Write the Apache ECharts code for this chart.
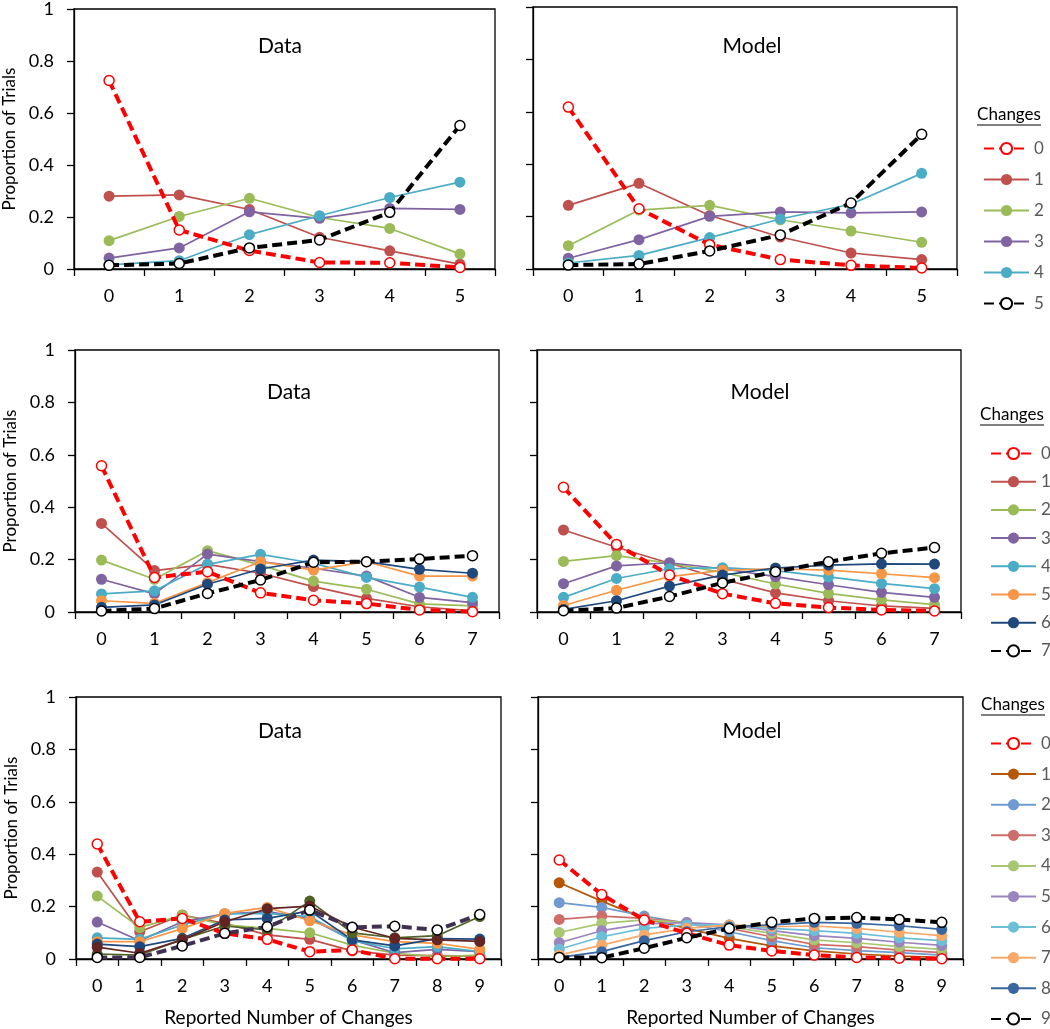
<!DOCTYPE html>
<html>
<head>
<meta charset="utf-8">
<title>Proportion of Trials</title>
<script src="https://cdn.jsdelivr.net/npm/echarts@6/dist/echarts.min.js"></script>
<style>
  html, body { margin: 0; padding: 0; background: #fff; }
  #chart { width: 1050px; height: 1029px; }
</style>
</head>
<body>
<div id="chart"></div>
<script>
// categories (reported number of changes)
const cats5 = ['0', '1', '2', '3', '4', '5']
const cats7 = ['0', '1', '2', '3', '4', '5', '6', '7']
const cats9 = ['0', '1', '2', '3', '4', '5', '6', '7', '8', '9']

// top row: 0..5 changes, one row per actual number of changes
const topData = [
  [0.725, 0.150, 0.071, 0.025, 0.024, 0.006],
  [0.280, 0.285, 0.229, 0.122, 0.070, 0.019],
  [0.109, 0.202, 0.272, 0.198, 0.156, 0.058],
  [0.042, 0.081, 0.220, 0.195, 0.233, 0.229],
  [0.016, 0.032, 0.132, 0.205, 0.275, 0.334],
  [0.014, 0.021, 0.081, 0.112, 0.218, 0.552]
]
const topModel = [
  [0.618, 0.230, 0.093, 0.036, 0.014, 0.004],
  [0.243, 0.327, 0.204, 0.122, 0.061, 0.036],
  [0.089, 0.225, 0.243, 0.188, 0.145, 0.102],
  [0.041, 0.112, 0.201, 0.218, 0.214, 0.218],
  [0.023, 0.052, 0.120, 0.191, 0.247, 0.365],
  [0.015, 0.019, 0.069, 0.130, 0.252, 0.514]
]

// middle row: 0..7 changes
const midData = [
  [0.558, 0.132, 0.154, 0.073, 0.045, 0.032, 0.008, 0.001],
  [0.338, 0.158, 0.182, 0.148, 0.097, 0.052, 0.020, 0.004],
  [0.198, 0.125, 0.234, 0.179, 0.118, 0.087, 0.031, 0.023],
  [0.125, 0.069, 0.221, 0.192, 0.167, 0.137, 0.056, 0.036],
  [0.069, 0.081, 0.182, 0.220, 0.186, 0.132, 0.095, 0.056],
  [0.043, 0.033, 0.112, 0.192, 0.160, 0.192, 0.137, 0.137],
  [0.018, 0.027, 0.106, 0.164, 0.198, 0.192, 0.163, 0.148],
  [0.004, 0.013, 0.071, 0.122, 0.190, 0.192, 0.202, 0.215]
]
const midModel = [
  [0.476, 0.258, 0.141, 0.070, 0.033, 0.017, 0.008, 0.004],
  [0.313, 0.247, 0.186, 0.125, 0.073, 0.043, 0.023, 0.014],
  [0.193, 0.215, 0.186, 0.151, 0.107, 0.071, 0.046, 0.028],
  [0.108, 0.176, 0.188, 0.165, 0.135, 0.104, 0.075, 0.056],
  [0.056, 0.128, 0.165, 0.169, 0.158, 0.134, 0.109, 0.089],
  [0.025, 0.083, 0.135, 0.159, 0.165, 0.160, 0.146, 0.131],
  [0.010, 0.043, 0.099, 0.141, 0.168, 0.179, 0.184, 0.183],
  [0.005, 0.015, 0.059, 0.111, 0.154, 0.192, 0.224, 0.246]
]

// bottom row: 0..9 changes
const botData = [
  [0.439, 0.142, 0.155, 0.098, 0.075, 0.028, 0.034, 0.001, 0.001, 0.001],
  [0.332, 0.104, 0.168, 0.136, 0.092, 0.075, 0.031, 0.015, 0.013, 0.011],
  [0.240, 0.120, 0.167, 0.130, 0.117, 0.100, 0.053, 0.022, 0.009, 0.015],
  [0.141, 0.070, 0.142, 0.172, 0.181, 0.155, 0.073, 0.024, 0.037, 0.028],
  [0.081, 0.075, 0.130, 0.172, 0.174, 0.162, 0.070, 0.039, 0.047, 0.028],
  [0.066, 0.066, 0.116, 0.174, 0.197, 0.146, 0.092, 0.066, 0.060, 0.037],
  [0.057, 0.047, 0.079, 0.149, 0.155, 0.184, 0.073, 0.050, 0.078, 0.076],
  [0.019, 0.015, 0.075, 0.126, 0.111, 0.221, 0.100, 0.081, 0.089, 0.162],
  [0.045, 0.022, 0.073, 0.142, 0.192, 0.202, 0.121, 0.079, 0.073, 0.067],
  [0.006, 0.006, 0.050, 0.098, 0.123, 0.187, 0.121, 0.125, 0.111, 0.170]
]
const botModel = [
  [0.378, 0.246, 0.149, 0.098, 0.053, 0.031, 0.015, 0.006, 0.003, 0.001],
  [0.291, 0.221, 0.155, 0.117, 0.079, 0.050, 0.031, 0.019, 0.011, 0.006],
  [0.215, 0.197, 0.164, 0.136, 0.104, 0.070, 0.043, 0.032, 0.024, 0.015],
  [0.151, 0.164, 0.155, 0.139, 0.117, 0.085, 0.056, 0.047, 0.034, 0.024],
  [0.101, 0.136, 0.149, 0.139, 0.123, 0.098, 0.073, 0.062, 0.047, 0.037],
  [0.062, 0.108, 0.134, 0.139, 0.130, 0.108, 0.089, 0.079, 0.064, 0.052],
  [0.037, 0.085, 0.117, 0.130, 0.130, 0.117, 0.108, 0.098, 0.081, 0.070],
  [0.015, 0.053, 0.092, 0.117, 0.130, 0.123, 0.126, 0.117, 0.102, 0.089],
  [0.006, 0.028, 0.070, 0.104, 0.123, 0.130, 0.140, 0.136, 0.127, 0.113],
  [0.006, 0.005, 0.041, 0.081, 0.116, 0.140, 0.155, 0.158, 0.151, 0.140]
]

// colours
const topColors = ['#FF0000', '#C0504D', '#9BBB59', '#8064A2', '#4BACC6', '#000000']
const midColors = ['#FF0000', '#C0504D', '#9BBB59', '#8064A2', '#4BACC6', '#F79646', '#1F497D', '#000000']
const botDataColors = ['#FF0000', '#C0504D', '#9BBB59', '#8064A2', '#4BACC6', '#F79646', '#1F497D', '#4F6228', '#632523', '#403152']
const botModelColors = ['#FF0000', '#B65708', '#6F9BD1', '#CF6D6B', '#A9C672', '#9B85BF', '#6BBFD7', '#F9A868', '#3A66A0', '#000000']

const FONT = 'Lato, "Open Sans", sans-serif'

let grids = [
  { left: 72, top: 7, width: 423, height: 262 },
  { left: 533, top: 7, width: 424, height: 262 },
  { left: 75, top: 350, width: 424, height: 262 },
  { left: 537, top: 350, width: 424, height: 262 },
  { left: 76, top: 697, width: 425, height: 262 },
  { left: 538, top: 697, width: 425, height: 262 }
].map(g => Object.assign({ show: true, borderColor: '#000', borderWidth: 1.3, containLabel: false }, g))

let catsFor = [cats5, cats5, cats7, cats7, cats9, cats9]

let xAxes = catsFor.map((c, i) => ({
  type: 'category',
  gridIndex: i,
  data: c,
  boundaryGap: true,
  axisLine: { show: true, lineStyle: { color: '#000', width: 1.3 } },
  axisTick: { show: true, length: 7, lineStyle: { color: '#000', width: 1.3 } },
  axisLabel: { fontSize: 18, color: '#000', margin: 18, fontFamily: FONT },
  name: i >= 4 ? 'Reported Number of Changes' : '',
  nameLocation: 'middle',
  nameGap: 49,
  nameTextStyle: { fontSize: 19, color: '#000', fontFamily: FONT }
}))

let yAxes = catsFor.map((c, i) => ({
  type: 'value',
  gridIndex: i,
  min: 0,
  max: 1,
  interval: 0.2,
  splitLine: { show: false },
  axisLine: { show: true, lineStyle: { color: '#000', width: 1.3 } },
  axisTick: { show: true, length: 7, lineStyle: { color: '#000', width: 1.3 } },
  axisLabel: { show: i % 2 === 0, fontSize: 18, color: '#000', margin: 20, fontFamily: FONT },
  name: i % 2 === 0 ? 'Proportion of Trials' : '',
  nameLocation: 'middle',
  nameGap: 56,
  nameTextStyle: { fontSize: 17, color: '#000', fontFamily: FONT }
}))

function makeSeries (prefix, rows, colors, gi) {
  return rows.map((vals, k) => {
    let open = k === 0 || k === rows.length - 1
    let c = colors[k]
    return {
      name: prefix + '-' + k,
      type: 'line',
      xAxisIndex: gi,
      yAxisIndex: gi,
      data: vals,
      symbol: 'circle',
      symbolSize: open ? 10 : 11,
      showSymbol: true,
      lineStyle: open ? { color: c, width: 4, type: [10, 5] } : { color: c, width: 1.7 },
      itemStyle: open
        ? { color: '#fff', borderColor: c === '#403152' ? '#000' : c, borderWidth: 1.5 }
        : { color: c, borderWidth: 0 },
      emphasis: { disabled: true },
      z: open ? 3 : 2
    }
  })
}

let series = [].concat(
  makeSeries('td', topData, topColors, 0),
  makeSeries('tm', topModel, topColors, 1),
  makeSeries('md', midData, midColors, 2),
  makeSeries('mm', midModel, midColors, 3),
  makeSeries('bd', botData, botDataColors, 4),
  makeSeries('bm', botModel, botModelColors, 5)
)

function legendFor (prefix, n, left, top, gap) {
  let names = []
  for (let k = 0; k < n; k++) names.push(prefix + '-' + k)
  return {
    data: names,
    orient: 'vertical',
    left: left,
    top: top,
    padding: 0,
    itemWidth: 45,
    itemHeight: 14,
    itemGap: gap,
    selectedMode: false,
    formatter: name => name.split('-')[1],
    textStyle: { fontSize: 17, lineHeight: 14, color: '#595959', fontFamily: FONT }
  }
}

function changesLabel (cx, cy) {
  return [
    { type: 'text', x: cx, y: cy, style: { text: 'Changes', fontSize: 17, fill: '#000', fontFamily: FONT, align: 'center', verticalAlign: 'middle' } },
    { type: 'line', shape: { x1: cx - 32, y1: cy + 10, x2: cx + 32, y2: cy + 10 }, style: { stroke: '#000', lineWidth: 1 } }
  ]
}

function panelTitle (text, cx, cy) {
  return { type: 'text', x: cx, y: cy, style: { text: text, fontSize: 21, fill: '#000', fontFamily: FONT, align: 'center', verticalAlign: 'middle' } }
}

let chart = echarts.init(document.getElementById('chart'))
chart.setOption({
  animation: false,
  backgroundColor: '#fff',
  grid: grids,
  xAxis: xAxes,
  yAxis: yAxes,
  legend: [
    legendFor('tm', 6, 983, 140, 14),
    legendFor('mm', 8, 990, 445, 11.2),
    legendFor('bm', 10, 990, 735, 13.6)
  ],
  graphic: [].concat(
    [
      panelTitle('Data', 280, 46),
      panelTitle('Model', 752, 46),
      panelTitle('Data', 289, 392),
      panelTitle('Model', 760, 392),
      panelTitle('Data', 280, 731),
      panelTitle('Model', 752, 731)
    ],
    changesLabel(1009, 115),
    changesLabel(1012, 415),
    changesLabel(1013, 705)
  ),
  series: series
})
</script>
</body>
</html>
